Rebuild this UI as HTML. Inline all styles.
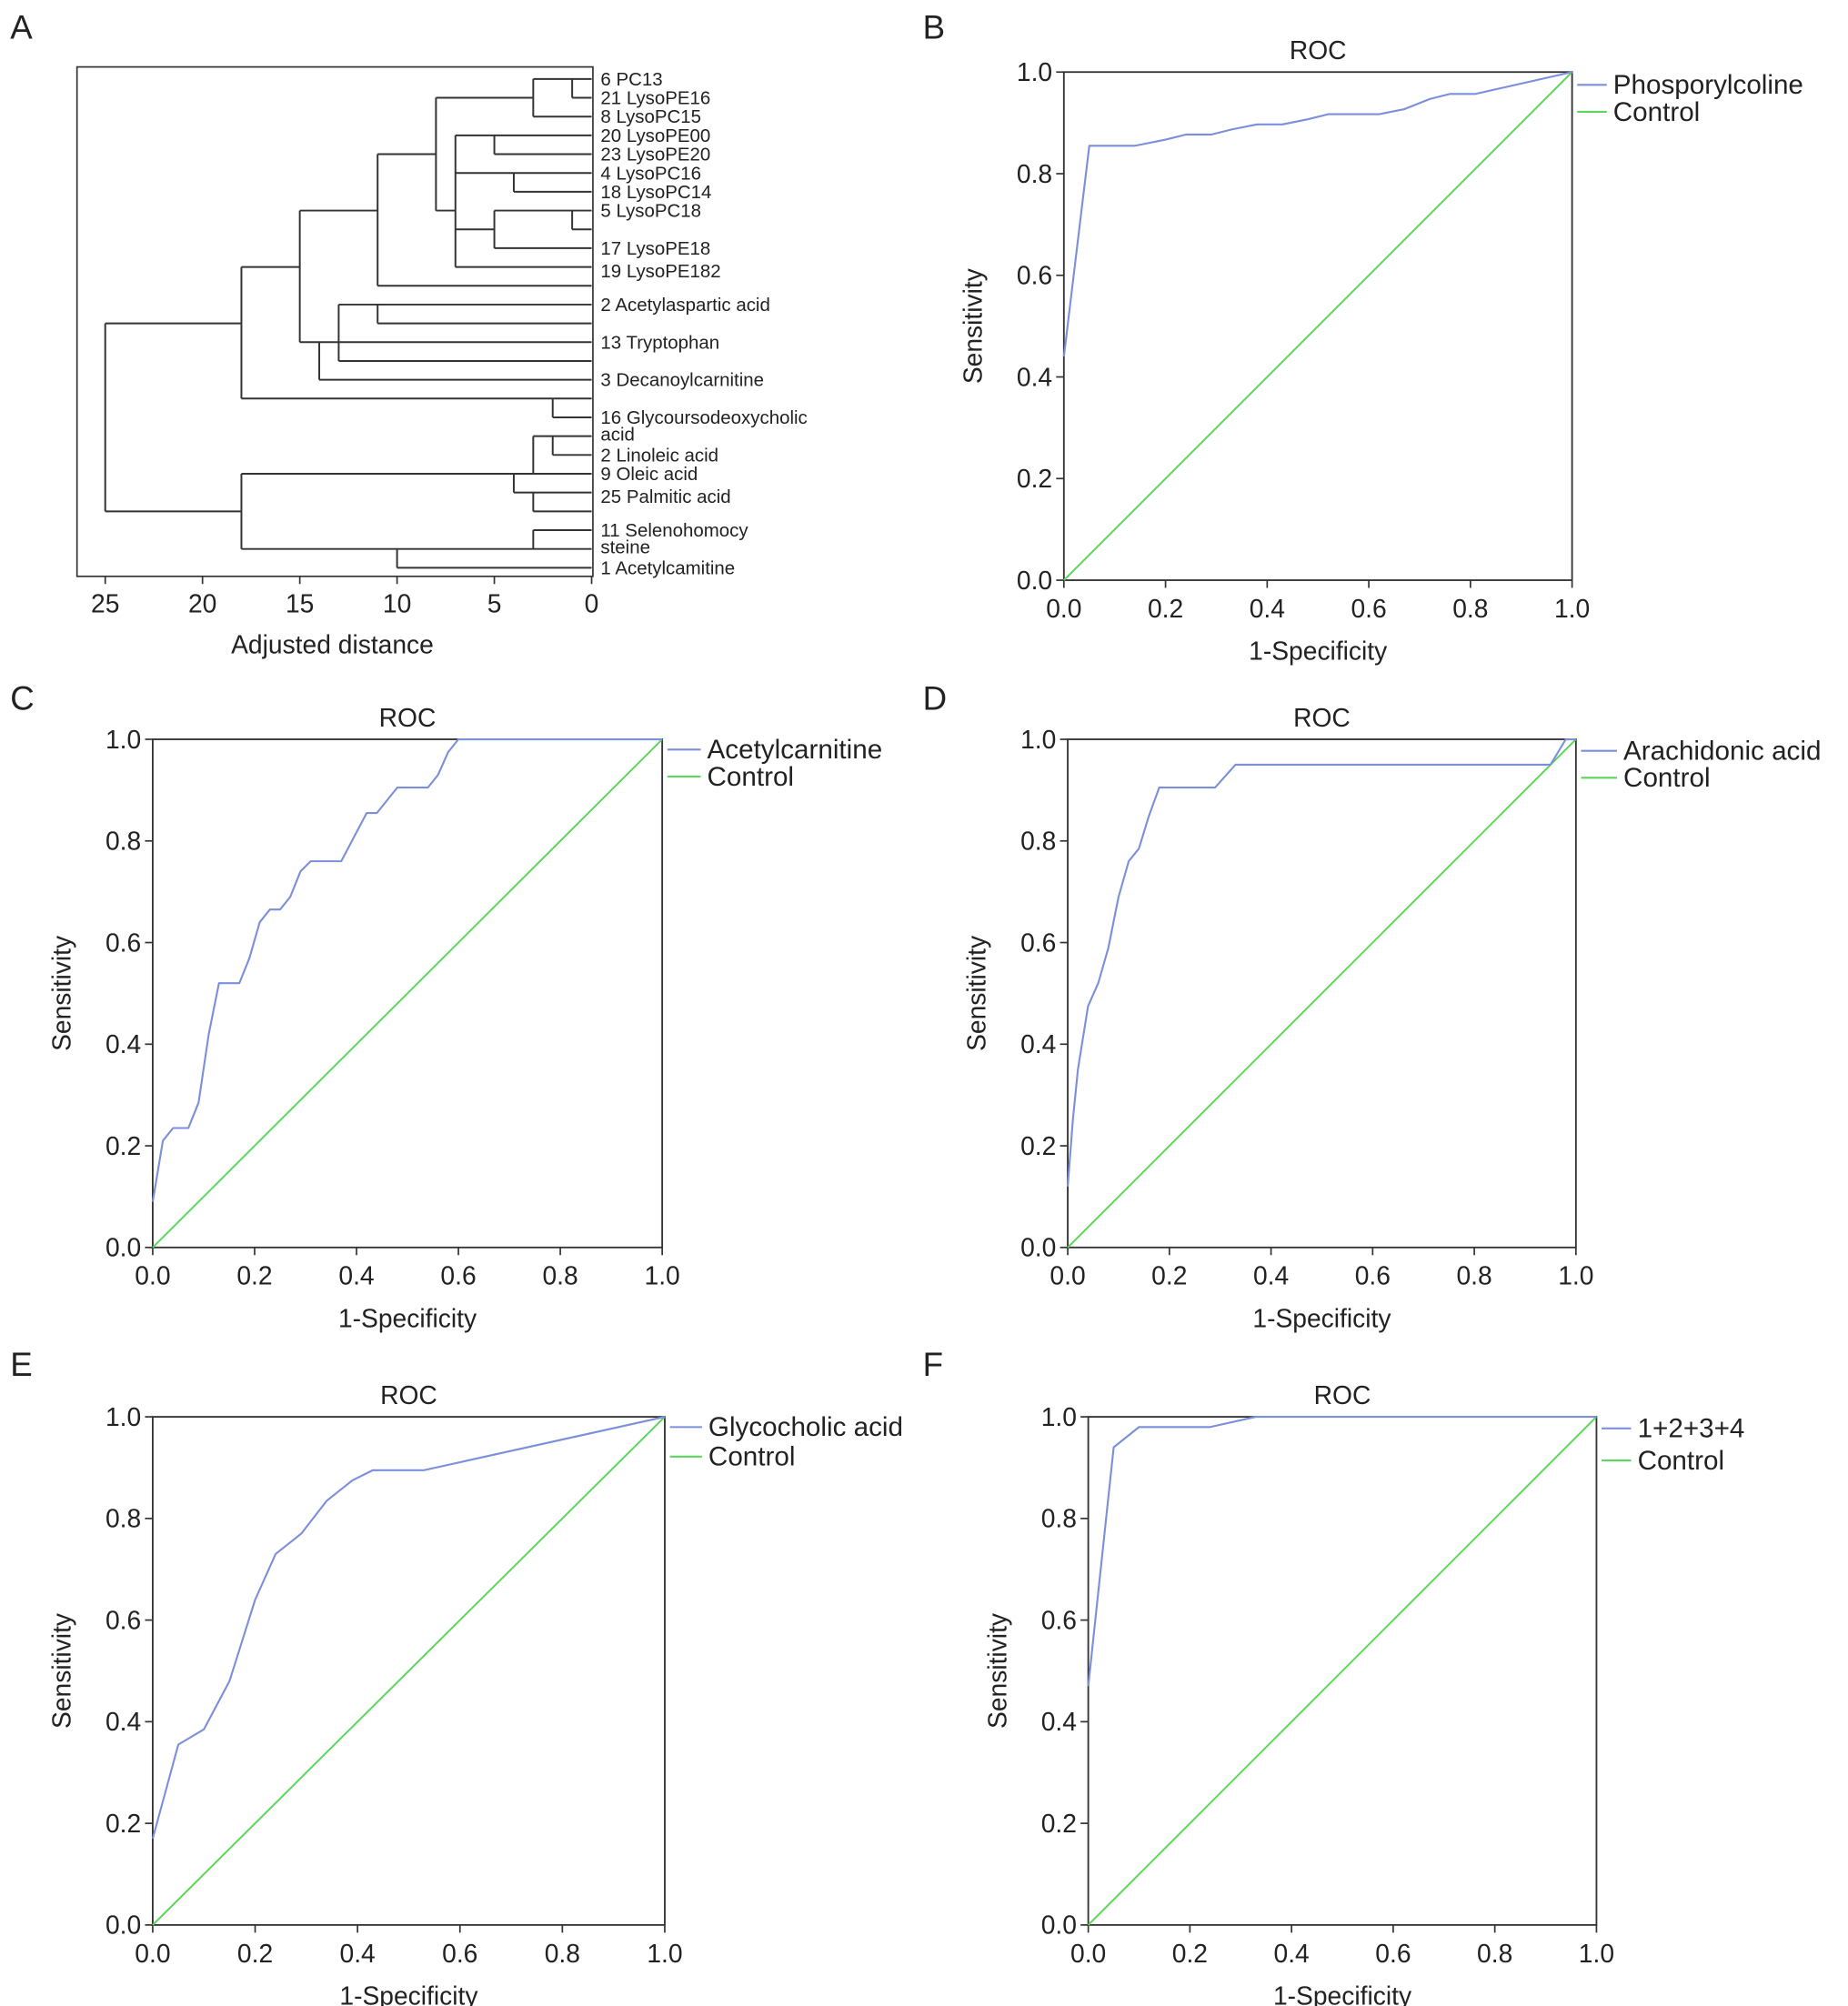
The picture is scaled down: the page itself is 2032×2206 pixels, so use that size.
<!DOCTYPE html>
<html><head><meta charset="utf-8">
<style>
html,body{margin:0;padding:0;background:#fff;}
svg{display:block;}
text{font-family:"Liberation Sans",sans-serif;fill:#222;}
</style></head>
<body>
<svg id="fig" width="2032" height="2206" viewBox="0 0 1440 1563" xmlns="http://www.w3.org/2000/svg"></svg>
<script>
// ---------- Dendrogram data (distance units / leaf index units) ----------
const leafLabels = [
  [0,"6 PC13"],[1,"21 LysoPE16"],[2,"8 LysoPC15"],[3,"20 LysoPE00"],[4,"23 LysoPE20"],
  [5,"4 LysoPC16"],[6,"18 LysoPC14"],[7,"5 LysoPC18"],[9,"17 LysoPE18"],[10.2,"19 LysoPE182"],
  [12,"2 Acetylaspartic acid"],[14,"13 Tryptophan"],[16,"3 Decanoylcarnitine"],
  [18,"16 Glycoursodeoxycholic"],[18.9,"acid"],[20,"2 Linoleic acid"],[21,"9 Oleic acid"],
  [22.2,"25 Palmitic acid"],[24,"11 Selenohomocy"],[24.9,"steine"],[26,"1 Acetylcamitine"]
];
// horizontal segments: [leafIdx, dFrom, dTo]
const hSegs = [
  [0,3,0],[1,1,0],[2,3,0],[1,8,3],
  [3,7,0],[4,5,0],[5,7,0],[6,4,0],[7,5,0],[8,1,0],[8,7,5],[9,5,0],[10,7,0],
  [7,8,7],[4,11,8],[11,11,0],[7,15,11],
  [12,13,0],[13,11,0],[14,13,0],[15,13,0],[14,14,13],[16,14,0],[14,15,14],
  [10,18,15],[17,18,0],[18,2,0],[13,25,18],
  [19,3,0],[20,2,0],[21,3,0],[21,4,3],[22,4,0],[23,3,0],[21,18,4],
  [24,3,0],[25,10,0],[26,10,0],[25,18,10],[23,25,18]
];
// vertical segments: [d, idxFrom, idxTo]
const vSegs = [
  [1,0,1],[3,0,2],[5,3,4],[4,5,6],[1,7,8],[5,7,9],[7,3,10],[8,1,7],[11,4,11],
  [11,12,13],[13,12,15],[14,14,16],[15,7,14],[2,17,18],[18,10,17],
  [2,19,20],[3,19,21],[3,22,23],[4,21,22],[3,24,25],[10,25,26],[18,21,25],[25,13,23]
];
const dTicks = [25,20,15,10,5,0];

// ---------- ROC data ----------
const rocTicks = [0,0.2,0.4,0.6,0.8,1.0];
const rocTickLabels = ["0.0","0.2","0.4","0.6","0.8","1.0"];
const bX = [0,0.05,0.14,0.2,0.24,0.29,0.33,0.38,0.43,0.48,0.52,0.62,0.67,0.72,0.76,0.81,1];
const bY = [0.44,0.855,0.855,0.867,0.877,0.877,0.887,0.897,0.897,0.907,0.917,0.917,0.927,0.947,0.957,0.957,1];
const cX = [0,0.02,0.04,0.07,0.09,0.11,0.13,0.17,0.19,0.21,0.23,0.25,0.27,0.29,0.31,0.37,0.42,0.44,0.48,0.54,0.56,0.58,0.6,1];
const cY = [0.09,0.21,0.235,0.235,0.285,0.42,0.52,0.52,0.57,0.64,0.665,0.665,0.69,0.74,0.76,0.76,0.855,0.855,0.905,0.905,0.93,0.975,1,1];
const dX = [0,0.01,0.02,0.04,0.06,0.08,0.1,0.12,0.14,0.16,0.18,0.29,0.33,0.95,0.98,1];
const dY = [0.12,0.25,0.35,0.475,0.52,0.59,0.69,0.76,0.785,0.85,0.905,0.905,0.95,0.95,1,1];
const eX = [0,0.05,0.1,0.15,0.2,0.24,0.29,0.34,0.39,0.43,0.53,1];
const eY = [0.17,0.355,0.385,0.48,0.64,0.73,0.77,0.835,0.875,0.895,0.895,1];
const fX = [0,0.05,0.1,0.24,0.33,1];
const fY = [0.47,0.94,0.98,0.98,1,1];
const ctrlX = [0,1];
const ctrlY = [0,1];

const NS="http://www.w3.org/2000/svg";
const svg=document.getElementById('fig');
function mk(tag,attrs,parent){const e=document.createElementNS(NS,tag);for(const k in attrs)e.setAttribute(k,attrs[k]);(parent||svg).appendChild(e);return e;}
function txt(s,x,y,size,anchor,parent){const t=mk('text',{x:x,y:y,'font-size':size,'text-anchor':anchor||'start'},parent);t.textContent=s;return t;}

// panel letters
[["A",8,30],["B",719,30],["C",8,553],["D",719,553],["E",8,1072],["F",719,1072]].forEach(p=>{
  const t=txt(p[0],p[1],p[2],26);
  
  
});

// ---------- Dendrogram ----------
(function(){
  const g=mk('g',{});
  
  
  const x=d=>461-d*15.16;
  const y=i=>61.4+i*14.65;
  const box=mk('rect',{x:60,y:52,width:402,height:397,fill:'none',stroke:'#333','stroke-width':1.2},g);
  
  
  hSegs.forEach(s=>{
    const l=mk('line',{x1:x(s[1]),x2:x(s[2]),y1:y(s[0]),y2:y(s[0]),stroke:'#333','stroke-width':1.4},g);
    
    
  });
  vSegs.forEach(s=>{
    const l=mk('line',{x1:x(s[0]),x2:x(s[0]),y1:y(s[1]),y2:y(s[2]),stroke:'#333','stroke-width':1.4},g);
    
    
  });
  leafLabels.forEach(l=>{
    const t=txt(l[1],468,y(l[0])+5,14.5,'start',g);
    
    
  });
  dTicks.forEach(d=>{
    const tk=mk('line',{x1:x(d),x2:x(d),y1:449,y2:455,stroke:'#333','stroke-width':1.2},g);
    
    
    const t=txt(String(d),x(d),477,20,'middle',g);
    
    
  });
  const xt=txt("Adjusted distance",259,509,20,'middle',g);
  
  
})();

// ---------- ROC panels ----------
function roc(id,L,T,R,B,xs,ys,label,legTextX,legY1,legY2){
  const g=mk('g',{});
  
  
  const sx=v=>L+v*(R-L), sy=v=>B-v*(B-T);
  const cx=(L+R)/2;
  const tt=txt("ROC",cx,T-10,20,'middle',g);
  
  
  const fr=mk('rect',{x:L,y:T,width:R-L,height:B-T,fill:'none',stroke:'#333','stroke-width':1.3},g);
  
  
  rocTicks.forEach((v,i)=>{
    const a=mk('line',{x1:sx(v),x2:sx(v),y1:B,y2:B+6,stroke:'#333','stroke-width':1.2},g);
    
    
    const t1=txt(rocTickLabels[i],sx(v),B+29,20,'middle',g);
    
    
    const b=mk('line',{x1:L-6,x2:L,y1:sy(v),y2:sy(v),stroke:'#333','stroke-width':1.2},g);
    
    
    const t2=txt(rocTickLabels[i],L-9,sy(v)+7,20,'end',g);
    
    
  });
  const xl=txt("1-Specificity",cx,B+62,20,'middle',g);
  
  
  const yl=txt("Sensitivity",0,0,20,'middle',g);
  yl.setAttribute('transform','translate('+(L-64)+','+((T+B)/2)+') rotate(-90)');
  
  
  const cl=mk('polyline',{points:ctrlX.map((v,i)=>sx(v)+','+sy(ctrlY[i])).join(' '),fill:'none',stroke:'#5cd65c','stroke-width':1.4},g);
  
  
  const pl=mk('polyline',{points:xs.map((v,i)=>sx(v)+','+sy(ys[i])).join(' '),fill:'none',stroke:'#7b8fdb','stroke-width':1.5,'stroke-linejoin':'round'},g);
  
  
  const lx1=R+4, lx2=legTextX-5;
  const m1=mk('line',{x1:lx1,x2:lx2,y1:legY1,y2:legY1,stroke:'#7b8fdb','stroke-width':1.5},g);
  
  
  const l1=txt(label,legTextX,legY1+7,21,'start',g);
  
  
  const m2=mk('line',{x1:lx1,x2:lx2,y1:legY2,y2:legY2,stroke:'#5cd65c','stroke-width':1.5},g);
  
  
  const l2=txt("Control",legTextX,legY2+7,21,'start',g);
  
  
}
roc('b',829,56,1225,452,bX,bY,"Phosporylcoline",1257,66,87);
roc('c',119,576,516,972,cX,cY,"Acetylcarnitine",551,584,605);
roc('d',832,576,1228,972,dX,dY,"Arachidonic acid",1265,585,606);
roc('e',119,1104,518,1500,eX,eY,"Glycocholic acid",552,1112,1135);
roc('f',848,1104,1244,1500,fX,fY,"1+2+3+4",1276,1113,1138);
</script>
</body></html>
